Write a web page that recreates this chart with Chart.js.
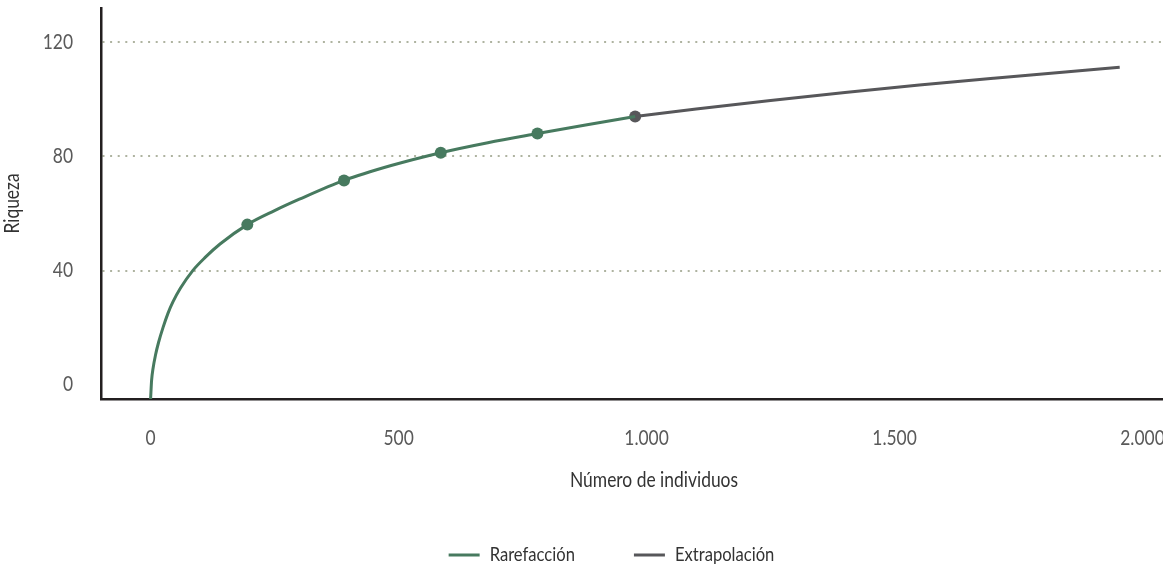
<!DOCTYPE html>
<html lang="es">
<head>
<meta charset="utf-8">
<title>Curva de rarefacción y extrapolación</title>
<script src="https://cdn.jsdelivr.net/npm/chart.js@4.4.1/dist/chart.umd.min.js"></script>
<style>
  html, body { margin: 0; padding: 0; overflow: hidden; background: #fff; width: 1163px; height: 570px; }
  #wrap { width: 1213px; height: 570px; }
</style>
</head>
<body>
<div id="wrap"><canvas id="c" width="1213" height="570"></canvas></div>
<script>
// Rarefaction: number of individuals vs. expected richness
const rareX = [0, 2, 5, 10, 16, 25, 35, 45, 60, 85, 110, 140, 195, 250, 300, 390, 485, 585, 680, 780, 880, 977];
const rareY = [-5, 1.5, 5.8, 10.5, 14.8, 20.0, 25.0, 29.0, 33.8, 40.0, 44.6, 49.3, 56.1, 61.0, 65.0, 71.6, 76.8, 81.3, 84.8, 88.0, 91.1, 94.0];

// Extrapolation beyond the observed sample
const extraX = [977, 1100, 1250, 1400, 1550, 1700, 1850, 1954];
const extraY = [94.0, 96.6, 99.6, 102.4, 105.0, 107.4, 109.7, 111.2];

// Sample sizes highlighted with a marker
const rareMarks = [195, 390, 585, 780];
const extraMarks = [977];

// Axis ticks
const xTicks = [0, 500, 1000, 1500, 2000];
const yTicks = [0, 40, 80, 120];

const FONT = 'Lato, "DejaVu Sans Condensed", sans-serif';
const CONDENSE = 0.83;          // horizontal squeeze for a condensed look
const GREEN = '#477a5f';
const GREY = '#57575a';
const AXIS = '#231f20';
const GRID = '#aeb3a0';

const toPoints = (xs, ys) => xs.map((x, i) => ({ x, y: ys[i] }));
const markerRadius = marks => ctx => (ctx.raw && marks.includes(ctx.raw.x) ? 6 : 0);
const thousands = v => String(v).replace(/\B(?=(\d{3})+(?!\d))/g, '.');

// Condensed text: squeeze glyphs horizontally around their anchor and
// report matching widths so the layout stays consistent.
const canvas = document.getElementById('c');
const ctx2d = canvas.getContext('2d');
const rawFill = ctx2d.fillText.bind(ctx2d);
const rawMeasure = ctx2d.measureText.bind(ctx2d);
ctx2d.fillText = function (text, x, y) {
  this.save();
  this.translate(x, y);
  this.scale(CONDENSE, 1);
  rawFill(text, 0, 0);
  this.restore();
};
ctx2d.measureText = function (text) {
  const m = rawMeasure(text);
  return {
    width: m.width * CONDENSE,
    actualBoundingBoxAscent: m.actualBoundingBoxAscent,
    actualBoundingBoxDescent: m.actualBoundingBoxDescent,
    actualBoundingBoxLeft: m.actualBoundingBoxLeft * CONDENSE,
    actualBoundingBoxRight: m.actualBoundingBoxRight * CONDENSE
  };
};

// Fixed legend band at the bottom of the canvas, items nudged right
const legendBand = {
  id: 'legendBand',
  beforeLayout(chart) {
    const lg = chart.legend;
    if (!lg || lg._bandPatched) return;
    const fit = lg.fit.bind(lg);
    lg.fit = function () {
      fit();
      this.height = 84;
      if (this.lineWidths && this.lineWidths.length) this.lineWidths[0] -= 10;
    };
    lg._bandPatched = true;
  }
};

new Chart(ctx2d, {
  type: 'line',
  data: {
    datasets: [
      {
        label: 'Rarefacción',
        data: toPoints(rareX, rareY),
        borderColor: GREEN,
        backgroundColor: GREEN,
        borderWidth: 3,
        cubicInterpolationMode: 'monotone',
        pointRadius: markerRadius(rareMarks),
        pointBorderWidth: 0,
        pointBackgroundColor: GREEN
      },
      {
        label: 'Extrapolación',
        data: toPoints(extraX, extraY),
        borderColor: GREY,
        backgroundColor: GREY,
        borderWidth: 3,
        cubicInterpolationMode: 'monotone',
        pointRadius: markerRadius(extraMarks),
        pointBorderWidth: 0,
        pointBackgroundColor: GREY
      }
    ]
  },
  options: {
    responsive: false,
    animation: false,
    events: [],
    layout: { padding: { top: 8, left: 0, right: 0, bottom: 0 } },
    plugins: {
      legend: {
        position: 'bottom',
        labels: {
          usePointStyle: true,
          pointStyle: 'line',
          pointStyleWidth: 31,
          padding: 59,
          color: '#333',
          font: { size: 20, family: FONT },
          generateLabels(chart) {
            const items = Chart.defaults.plugins.legend.labels.generateLabels(chart);
            items.forEach(it => {
              const ds = chart.data.datasets[it.datasetIndex];
              it.pointStyle = 'line';
              it.lineWidth = ds.borderWidth;
              it.strokeStyle = ds.borderColor;
              it.fillStyle = ds.borderColor;
            });
            return items;
          }
        }
      },
      tooltip: { enabled: false }
    },
    scales: {
      x: {
        type: 'linear',
        min: -100,
        max: 2130,
        afterBuildTicks: s => { s.ticks = xTicks.map(v => ({ value: v })); },
        afterFit: s => { s.height = 87; s.paddingLeft = 0; s.paddingRight = 0; },
        grid: { display: false, drawTicks: false },
        border: { display: true, color: AXIS, width: 2.5 },
        ticks: { padding: 27, color: '#5a5a5a', font: { size: 21, family: FONT }, callback: v => thousands(v) },
        title: {
          display: true,
          text: 'Número de individuos',
          color: '#333',
          font: { size: 21, family: FONT },
          padding: { top: 0, bottom: -7 }
        }
      },
      y: {
        type: 'linear',
        min: -5,
        max: 132,
        afterBuildTicks: s => { s.ticks = yTicks.map(v => ({ value: v })); },
        afterFit: s => { s.width = 101; s.paddingTop = 0; s.paddingBottom = 0; },
        grid: {
          drawTicks: false,
          lineWidth: 2,
          color: ctx => (ctx.tick && ctx.tick.value === 0 ? 'rgba(0,0,0,0)' : GRID)
        },
        border: { display: true, color: AXIS, width: 2.5, dash: [2, 5.6] },
        ticks: { padding: 28, color: '#5a5a5a', font: { size: 21, family: FONT } },
        title: {
          display: true,
          text: 'Riqueza',
          color: '#333',
          font: { size: 21, family: FONT },
          padding: { top: 0, bottom: 0 }
        }
      }
    }
  },
  plugins: [legendBand]
});
</script>
</body>
</html>
